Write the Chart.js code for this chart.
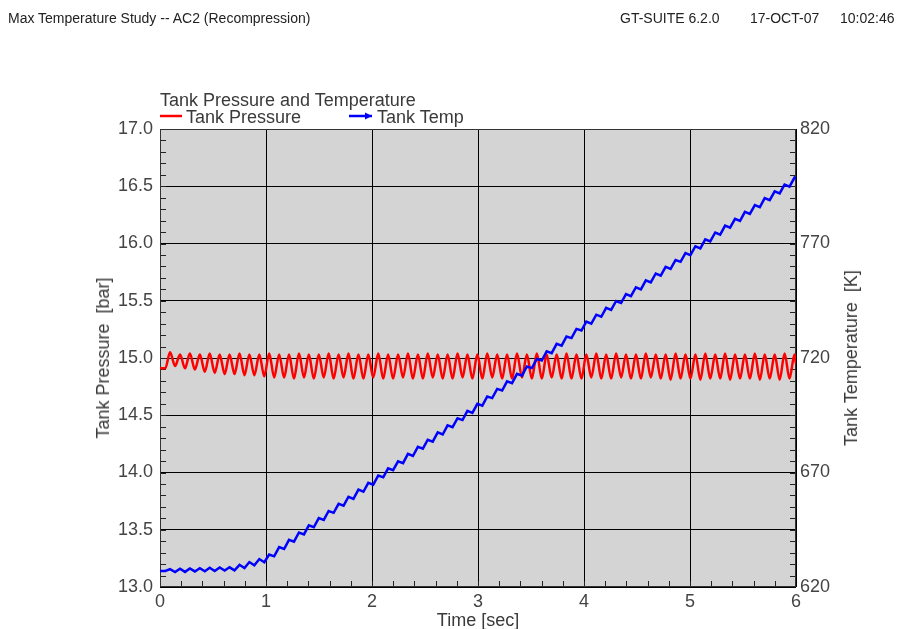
<!DOCTYPE html>
<html>
<head>
<meta charset="utf-8">
<script src="https://cdn.jsdelivr.net/npm/chart.js@4.4.0/dist/chart.umd.min.js"></script>
<style>
  html, body { margin: 0; padding: 0; background: #ffffff; }
  #wrap { position: relative; width: 902px; height: 629px; overflow: hidden; font-family: "Liberation Sans", Arial, sans-serif; color: #333; }
  #c { position: absolute; left: 0; top: 0; }
  .t { position: absolute; white-space: nowrap; }
  .hdr { font-size: 14px; line-height: 14px; color: #222; top: 11px; }
  .big { font-size: 18px; line-height: 18px; color: #3a3a3a; }
  .rot { transform: translate(-50%, -50%) rotate(-90deg); }
</style>
</head>
<body>
<div id="wrap">
  <canvas id="c" width="902" height="629"></canvas>
  <div class="t hdr" style="left:8px;">Max Temperature Study -- AC2 (Recompression)</div>
  <div class="t hdr" style="left:620px;">GT-SUITE 6.2.0</div>
  <div class="t hdr" style="left:750px;">17-OCT-07</div>
  <div class="t hdr" style="left:840px;">10:02:46</div>
  <div class="t big" style="left:160px; top:91px;">Tank Pressure and Temperature</div>
  <svg class="t" style="left:158px; top:110px;" width="26" height="12"><line x1="2" y1="6" x2="24" y2="6" stroke="#ff0000" stroke-width="2.5"/></svg>
  <div class="t big" style="left:186px; top:108px;">Tank Pressure</div>
  <svg class="t" style="left:347px; top:110px;" width="28" height="12"><line x1="2" y1="6" x2="25" y2="6" stroke="#0000ff" stroke-width="2.5"/><polygon points="18,2.5 25,6 18,9.5" fill="#0000ff"/></svg>
  <div class="t big" style="left:377px; top:108px;">Tank Temp</div>
  <div class="t big" style="left:478px; top:611px; transform: translateX(-50%);">Time [sec]</div>
  <div class="t big rot" style="left:103px; top:358px;">Tank Pressure&nbsp;&nbsp;[bar]</div>
  <div class="t big rot" style="left:851px; top:358px;">Tank Temperature&nbsp;&nbsp;[K]</div>
</div>
<script>
// ---- data ----
const timeSec = [0, 0.05,
  0.095,0.142, 0.189,0.236, 0.282,0.329, 0.376,0.423, 0.469,0.516, 0.563,0.610, 0.656,0.703, 0.750,0.797, 0.843,0.890, 0.937,0.984,
  1.030,1.077, 1.124,1.171, 1.217,1.264, 1.311,1.358, 1.404,1.451, 1.498,1.545, 1.591,1.638, 1.685,1.732, 1.778,1.825, 1.872,1.919,
  1.965,2.012, 2.059,2.106, 2.152,2.199, 2.246,2.293, 2.339,2.386, 2.433,2.480, 2.526,2.573, 2.620,2.667, 2.713,2.760, 2.807,2.854, 2.900,2.947,
  2.994,3.041, 3.087,3.134, 3.181,3.228, 3.274,3.321, 3.368,3.415, 3.461,3.508, 3.555,3.602, 3.648,3.695, 3.742,3.789, 3.835,3.882,
  3.929,3.976, 4.022,4.069, 4.116,4.163, 4.209,4.256, 4.303,4.350, 4.396,4.443, 4.490,4.537, 4.583,4.630, 4.677,4.724, 4.770,4.817,
  4.864,4.911, 4.957,5.004, 5.051,5.098, 5.144,5.191, 5.238,5.285, 5.331,5.378, 5.425,5.472, 5.518,5.565, 5.612,5.659, 5.705,5.752,
  5.799,5.846, 5.892,5.939, 5.986, 6.0];

const tankPressure = [14.91, 14.91,
  15.05,14.93, 15.03,14.91, 15.04,14.90, 15.03,14.88, 15.04,14.87, 15.03,14.86, 15.03,14.86, 15.04,14.85, 15.03,14.85, 15.03,14.84,
  15.04,14.83, 15.03,14.83, 15.03,14.82, 15.04,14.83, 15.03,14.82, 15.03,14.83, 15.04,14.82, 15.03,14.83, 15.04,14.82, 15.03,14.82,
  15.03,14.83, 15.04,14.82, 15.03,14.82, 15.03,14.83, 15.04,14.82, 15.03,14.82, 15.04,14.83, 15.03,14.82, 15.03,14.82, 15.04,14.83, 15.03,14.82,
  15.03,14.82, 15.04,14.83, 15.03,14.82, 15.03,14.82, 15.04,14.83, 15.03,14.82, 15.04,14.82, 15.03,14.83, 15.03,14.82, 15.04,14.82,
  15.03,14.82, 15.03,14.83, 15.04,14.82, 15.03,14.82, 15.04,14.83, 15.03,14.82, 15.03,14.82, 15.04,14.83, 15.03,14.82, 15.03,14.81,
  15.04,14.82, 15.03,14.82, 15.03,14.81, 15.04,14.82, 15.03,14.82, 15.04,14.81, 15.03,14.82, 15.03,14.82, 15.04,14.81, 15.03,14.82,
  15.03,14.81, 15.04,14.82, 15.03, 14.95];

const tankTemp = [627.0, 627.0,
  627.8,626.5, 628.0,626.6, 628.1,626.8, 628.2,626.9, 628.4,627.0, 628.5,627.2, 628.6,627.3, 629.7,628.3, 630.9,629.5, 632.2,630.8,
  634.2,633.4, 637.4,636.6, 640.6,639.8, 643.8,643.0, 646.9,646.1, 650.1,649.3, 653.2,652.4, 656.3,655.5, 659.4,658.5, 662.5,661.6,
  665.5,664.7, 668.7,667.9, 671.8,671.0, 674.9,674.1, 678.1,677.2, 681.2,680.4, 684.3,683.5, 687.5,686.6, 690.6,689.8, 693.7,692.9, 696.9,696.0,
  700.0,699.2, 703.2,702.5, 706.5,705.8, 709.8,709.0, 713.1,712.3, 716.3,715.6, 719.6,718.9, 722.9,722.1, 726.2,725.4, 729.4,728.7,
  732.7,732.0, 735.9,735.0, 738.9,738.0, 741.9,741.0, 744.9,744.0, 747.9,747.0, 750.9,750.0, 753.9,753.0, 756.9,756.0, 759.8,758.9,
  762.8,762.0, 765.8,764.9, 768.8,767.9, 771.8,770.9, 774.8,773.9, 777.8,776.9, 780.8,779.9, 783.8,782.9, 786.8,785.9, 789.8,788.9,
  792.8,791.9, 795.7,794.8, 798.8, 798.4];

// axis settings
const timeRange = [0, 6], timeMajor = 1, timeMinor = 0.2;
const pressRange = [13, 17], pressMajor = 0.5, pressMinor = 0.1;
const tempRange = [620, 820], tempMajor = 50, tempMinor = 5;

const FONT = "'Liberation Sans', Arial, sans-serif";
const TICK_COLOR = '#444';

const plotDecor = {
  id: 'plotDecor',
  beforeDraw(chart) {
    const a = chart.chartArea, ctx = chart.ctx;
    ctx.save();
    ctx.fillStyle = 'rgb(212,212,212)';
    ctx.fillRect(a.left, a.top, a.right - a.left, a.bottom - a.top);
    ctx.restore();
  },
  beforeDatasetsDraw(chart) {
    const a = chart.chartArea, ctx = chart.ctx;
    const sx = chart.scales.x, sy = chart.scales.y, sy1 = chart.scales.y1;
    ctx.save();
    ctx.strokeStyle = '#222';
    ctx.lineWidth = 1;
    ctx.beginPath();
    const nP = Math.round((pressRange[1] - pressRange[0]) / pressMinor);
    for (let i = 1; i < nP; i++) {
      const y = Math.round(sy.getPixelForValue(pressRange[0] + i * pressMinor)) + 0.5;
      ctx.moveTo(a.left, y); ctx.lineTo(a.left + 6, y);
    }
    const nT = Math.round((tempRange[1] - tempRange[0]) / tempMinor);
    for (let i = 1; i < nT; i++) {
      const y = Math.round(sy1.getPixelForValue(tempRange[0] + i * tempMinor)) + 0.5;
      ctx.moveTo(a.right, y); ctx.lineTo(a.right - 6, y);
    }
    const nX = Math.round((timeRange[1] - timeRange[0]) / timeMinor);
    for (let i = 1; i < nX; i++) {
      const x = Math.round(sx.getPixelForValue(timeRange[0] + i * timeMinor)) + 0.5;
      ctx.moveTo(x, a.bottom); ctx.lineTo(x, a.bottom - 6);
    }
    ctx.stroke();
    ctx.strokeStyle = '#333';
    ctx.strokeRect(Math.round(a.left) + 0.5, Math.round(a.top) + 0.5, Math.round(a.right - a.left) - 1, Math.round(a.bottom - a.top) - 1);
    ctx.restore();
  }
};

new Chart(document.getElementById('c'), {
  type: 'line',
  data: {
    datasets: [
      {
        label: 'Tank Temp',
        data: timeSec.map((t, i) => ({ x: t, y: tankTemp[i] })),
        yAxisID: 'y1',
        borderColor: '#0000ff',
        borderWidth: 2.5,
        pointRadius: 0,
        tension: 0,
        order: 0
      },
      {
        label: 'Tank Pressure',
        data: timeSec.map((t, i) => ({ x: t, y: tankPressure[i] })),
        yAxisID: 'y',
        borderColor: '#ff0000',
        borderWidth: 2.5,
        pointRadius: 0,
        cubicInterpolationMode: 'monotone',
        order: 1
      }
    ]
  },
  options: {
    responsive: false,
    animation: false,
    devicePixelRatio: 1,
    layout: { padding: { top: 129, left: 0, right: 0, bottom: 0 } },
    plugins: { legend: { display: false }, title: { display: false }, tooltip: { enabled: false } },
    scales: {
      x: {
        type: 'linear', min: timeRange[0], max: timeRange[1],
        afterFit(s) { s.height = 42; },
        ticks: { stepSize: timeMajor, color: TICK_COLOR, font: { family: FONT, size: 18 }, padding: 4, maxRotation: 0, autoSkip: false },
        grid: { color: '#000', lineWidth: 1, drawTicks: false },
        border: { display: false }
      },
      y: {
        type: 'linear', position: 'left', min: pressRange[0], max: pressRange[1],
        afterFit(s) { s.width = 160; },
        ticks: { stepSize: pressMajor, color: TICK_COLOR, font: { family: FONT, size: 18 }, padding: 7, autoSkip: false, callback: v => Number(v).toFixed(1) },
        grid: { color: '#000', lineWidth: 1, drawTicks: false },
        border: { display: false }
      },
      y1: {
        type: 'linear', position: 'right', min: tempRange[0], max: tempRange[1],
        afterFit(s) { s.width = 106; },
        ticks: { stepSize: tempMajor, color: TICK_COLOR, font: { family: FONT, size: 18 }, padding: 4, autoSkip: false, callback: v => String(Math.round(v)) },
        grid: { display: false, drawTicks: false },
        border: { display: false }
      }
    }
  },
  plugins: [plotDecor]
});
</script>
</body>
</html>
